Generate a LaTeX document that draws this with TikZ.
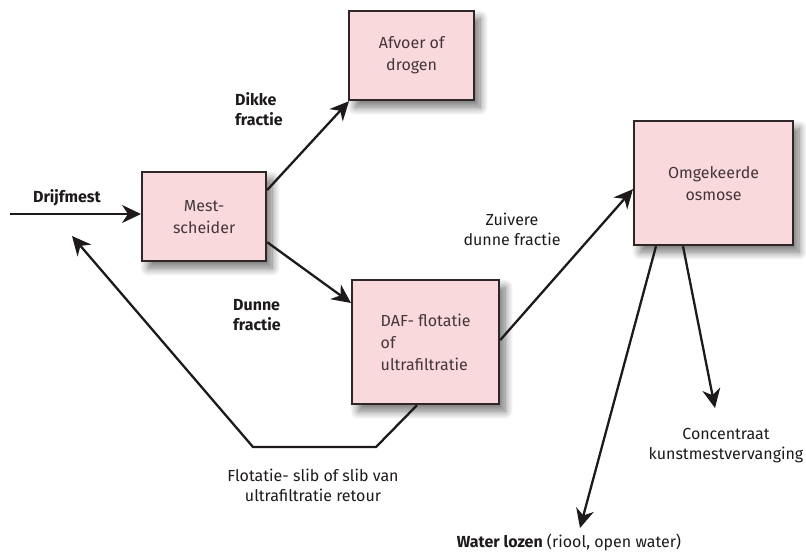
\documentclass[tikz,border=0pt]{standalone}
\usepackage{fontspec}
\setmainfont{Fira Sans}
\usetikzlibrary{arrows.meta,calc,shadows.blur}
\definecolor{boxfill}{HTML}{F9D9DC}
\definecolor{boxline}{HTML}{2E2628}
\definecolor{boxtext}{HTML}{43363A}
\definecolor{ink}{HTML}{1E1A1B}
\tikzset{
  procbox/.style={draw=boxline, line width=2.2pt, fill=boxfill, text=boxtext,
    align=center, anchor=north west, inner sep=0pt,
    font=\fontsize{16}{22}\selectfont,
    blur shadow={shadow xshift=6pt, shadow yshift=-7pt, shadow blur steps=12, shadow opacity=55, shadow blur radius=8pt}},
  lbl/.style={text=ink, align=center, inner sep=0pt, font=\fontsize{16}{20}\selectfont},
  blbl/.style={lbl, align=left, font=\fontsize{16}{20}\selectfont\bfseries},
  arr/.style={draw=ink, line width=2.3pt, -{Stealth[length=19pt,width=18pt,inset=6pt]}}
}
\begin{document}
\begin{tikzpicture}[x=1pt,y=-1pt]
\useasboundingbox (0,0) rectangle (806,554);
\node[procbox, minimum width=124pt, minimum height=89pt] (mest) at (141,171) {Mest-\\scheider};
\node[procbox, minimum width=125pt, minimum height=89pt] (afvoer) at (348,10) {Afvoer of\\drogen};
\node[procbox, minimum width=147pt, minimum height=124pt, align=left] (daf) at (351,279) {DAF- flotatie\\of\\ultrafiltratie};
\node[procbox, minimum width=159pt, minimum height=124pt] (omg) at (633,120) {Omgekeerde\\osmose};

\node[blbl] (ldrijf) at (67,198) {Drijfmest};
\node[blbl, anchor=west] (ldikke) at (235,109) {Dikke\\fractie};
\node[blbl, anchor=west] (ldunne) at (233,315) {Dunne\\fractie};
\node[lbl] (lzuiv) at (512,229) {Zuivere\\dunne fractie};
\node[lbl] (lflot) at (313,485) {Flotatie- slib of slib van\\ultrafiltratie retour};
\node[lbl] (lconc) at (726,446) {Concentraat\\kunstmestvervanging};
\node[lbl] (lwater) at (569,542) {\textbf{Water lozen} (riool, open water)};

\coordinate (in) at (10,214);
\draw[arr] (in) -- (in -| mest.west);
\draw[arr] ($(mest.north east)+(0,19)$) -- ($(afvoer.south west)+(1,0)$);
\draw[arr] ($(mest.south east)+(0,-20)$) -- ($(daf.north west)+(0,24)$);
\draw[arr] ($(daf.east)+(0,-2)$) -- ($(omg.west)+(0,6)$);
\coordinate (r1) at (376,447);
\coordinate (r2) at (253,447);
\coordinate (rend) at (72,236);
\draw[arr, line join=miter] ($(daf.south west)+(66,0)$) -- (r1) -- (r2) -- (rend);
\coordinate (wend) at (580,528);
\coordinate (cend) at (715,408);
\draw[arr] ($(omg.south west)+(23,0)$) -- (wend);
\draw[arr] ($(omg.south west)+(50,0)$) -- (cend);
\end{tikzpicture}
\end{document}
